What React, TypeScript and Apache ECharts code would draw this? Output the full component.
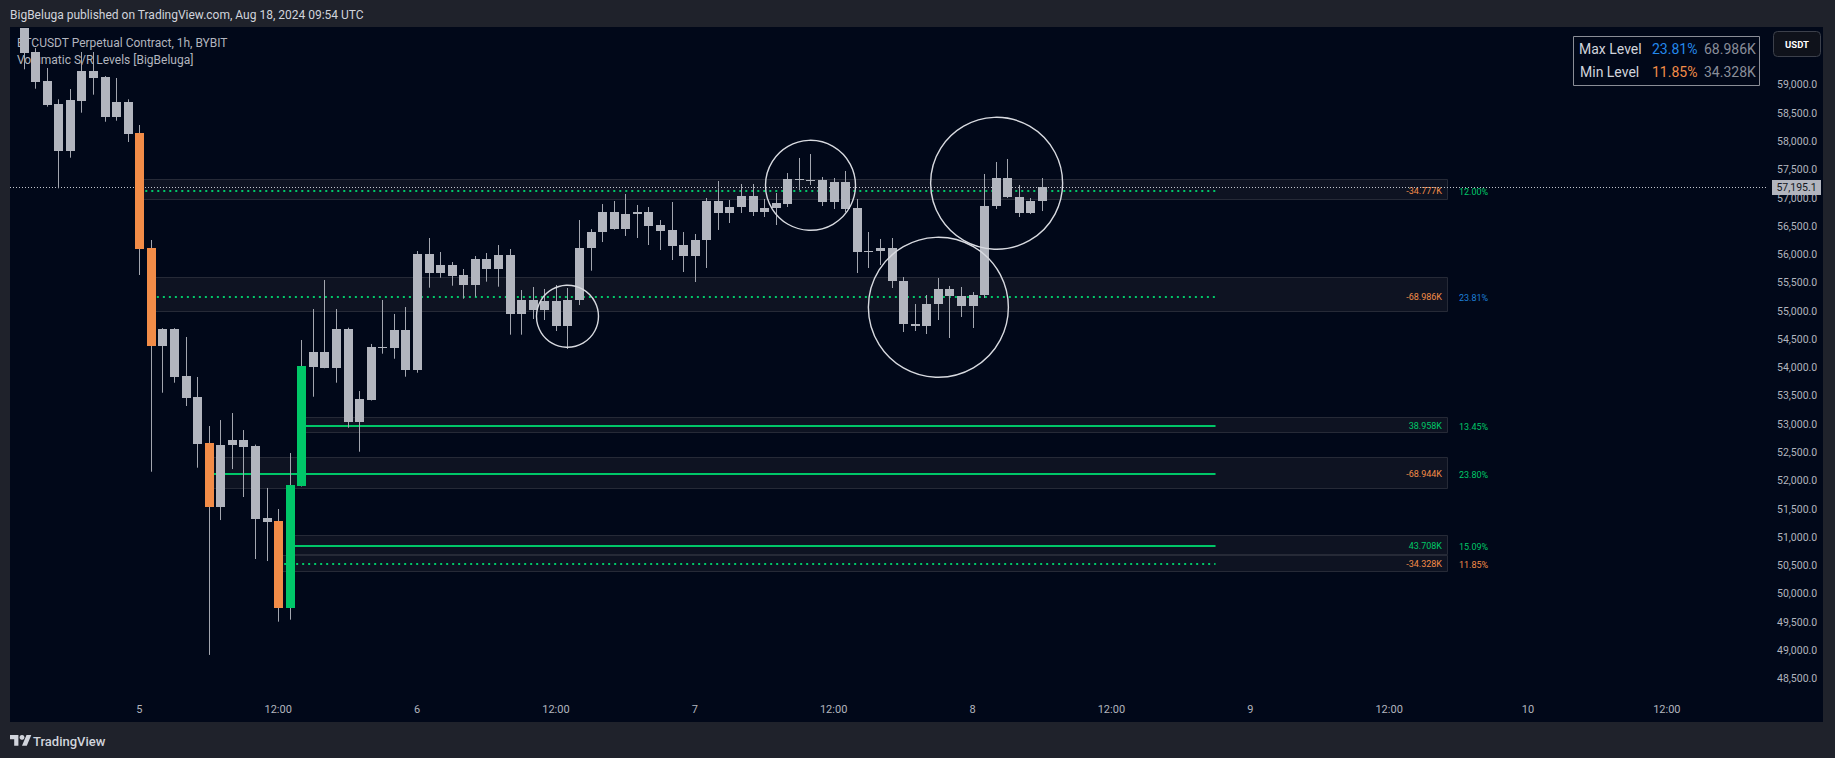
import React, { useEffect, useRef } from "react";
import * as echarts from "echarts";

// ---------------- data ----------------
const firstBarTime = "2024-08-04T14:00:00Z";
const axisOrigin = "2024-08-05T00:00:00Z";

const opens = [
  60150, 59582, 59069, 58662, 57837, 58721, 59240, 59140, 58438, 58698,
  58150, 56116, 54389, 54684, 53853, 53484, 52669, 51537, 52633, 52722,
  52616, 51344, 51291, 49757, 51914, 54019, 54279, 54000, 54686, 53046,
  53434, 54367, 54340, 54667, 53965, 56008, 55680, 55816, 55639, 55468,
  55922, 55751, 55993, 54955, 55197, 55020, 55179, 54737, 55197, 56116,
  56399, 56753, 56452, 56717, 56753, 56523, 56435, 56169, 55975, 56258,
  56947, 56735, 56841, 57036, 56753, 56823, 56894, 57336, 57320, 57319,
  56930, 57283, 56823, 56046, 56070, 56110, 55533, 54773, 54740, 55126,
  55392, 55260, 55091, 55285, 56859, 57354, 57018, 56735, 56947,
];
const highs = [
  60300, 59650, 59299, 58745, 58927, 59582, 59582, 59157, 59122, 58745,
  58291, 56258, 54700, 54700, 54543, 53836, 52969, 53075, 53199, 52898,
  52640, 51874, 51502, 52492, 54490, 55038, 55551, 55038, 54708, 53588,
  54420, 55197, 54950, 55073, 56063, 56293, 56046, 55869, 55745, 55975,
  56028, 56169, 56099, 55374, 55427, 55392, 55462, 55409, 56611, 56450,
  56894, 56947, 57071, 56877, 56841, 56611, 56930, 56399, 56364, 57000,
  57301, 56965, 57248, 57248, 56983, 57089, 57442, 57708, 57778, 57372,
  57354, 57478, 56983, 56399, 56276, 56293, 55604, 55126, 55285, 55586,
  55445, 55427, 55338, 57425, 57637, 57690, 57230, 57000, 57354,
];
const lows = [
  59276, 58933, 58615, 57172, 57713, 58509, 58827, 58349, 58367, 57990,
  55639, 52161, 53558, 53735, 53323, 52232, 48922, 51307, 52208, 51714,
  50618, 50582, 49510, 49545, 51900, 53487, 53990, 53735, 52939, 52515,
  53420, 54248, 54159, 53841, 53912, 55415, 55591, 55450, 55220, 55256,
  55521, 55432, 54584, 54584, 54861, 54843, 54649, 54331, 55108, 55715,
  56222, 56440, 56329, 56293, 56169, 56081, 55904, 55692, 55515, 55763,
  56435, 56558, 56735, 56682, 56664, 56523, 56841, 57142, 57230, 56859,
  56806, 56753, 55674, 55763, 55816, 55409, 54631, 54649, 54596, 54843,
  54525, 54897, 54702, 55233, 56806, 57000, 56664, 56717, 56770,
];
const closes = [
  59570, 59051, 58644, 57837, 58733, 59240, 59127, 58438, 58698, 58137,
  56104, 54389, 54684, 53841, 53464, 52651, 51537, 52633, 52722, 52598,
  51326, 51280, 49757, 51926, 54030, 54279, 54000, 54686, 53046, 53447,
  54367, 54340, 54667, 53965, 56008, 55680, 55816, 55627, 55468, 55922,
  55751, 55993, 54955, 55197, 55020, 55179, 54737, 55197, 56116, 56399,
  56753, 56458, 56717, 56750, 56505, 56417, 56152, 55975, 56258, 56947,
  56735, 56841, 57036, 56753, 56823, 56912, 57336, 57320, 57301, 56930,
  57283, 56806, 56046, 56070, 56110, 55533, 54773, 54740, 55126, 55392,
  55260, 55091, 55285, 56859, 57354, 57018, 56735, 56947, 57195.1,
];
// high-volume bars (indices into the arrays above)
const bearVolumeBars = [10, 11, 16, 22];
const bullVolumeBars = [23, 24];

// S/R levels
const levelStartTimes = [
  "2024-08-05T00:00:00Z", "2024-08-05T01:00:00Z", "2024-08-05T14:00:00Z",
  "2024-08-05T06:00:00Z", "2024-08-05T13:00:00Z", "2024-08-05T12:00:00Z",
];
const levelLineEnd = "2024-08-08T21:00:00Z";
const levelBoxEnd = "2024-08-09T17:00:00Z";
const levelPrices = [57124, 55250, 52975, 52126, 50853, 50535];
const levelTops = [57336, 55604, 53129, 52421, 51043, 50688];
const levelBottoms = [56977, 54997, 52858, 51878, 50701, 50411];
const levelVolumes = ["-34.777K", "-68.986K", "38.958K", "-68.944K", "43.708K", "-34.328K"];
const levelPercents = ["12.00%", "23.81%", "13.45%", "23.80%", "15.09%", "11.85%"];
const levelDotted = [true, true, false, false, false, true];
const levelPctKind = ["up", "max", "up", "up", "up", "min"];

// hand-drawn circles: time, price, radius(px)
const circleTimes = ["2024-08-06T13:00:00Z", "2024-08-07T10:00:00Z", "2024-08-08T02:05:00Z", "2024-08-07T21:03:00Z"];
const circlePrices = [54909, 57225, 57260, 55068];
const circleRadii = [31, 45, 66, 70];

const lastPrice = 57195.1;
const priceTicks = [
  48500, 49000, 49500, 50000, 50500, 51000, 51500, 52000, 52500, 53000, 53500,
  54000, 54500, 55000, 55500, 56000, 56500, 57000, 57500, 58000, 58500, 59000,
];
const timeTicks = [
  "2024-08-05T00:00:00Z", "2024-08-05T12:00:00Z", "2024-08-06T00:00:00Z", "2024-08-06T12:00:00Z",
  "2024-08-07T00:00:00Z", "2024-08-07T12:00:00Z", "2024-08-08T00:00:00Z", "2024-08-08T12:00:00Z",
  "2024-08-09T00:00:00Z", "2024-08-09T12:00:00Z", "2024-08-10T00:00:00Z", "2024-08-10T12:00:00Z",
];

// ---------------- styles ----------------
const PANEL_BG = "#010819";
const FRAME = "#1f222b";
const GRAY = "#b2b5be";
const WICK = "#a3a6af";
const ORANGE = "#f28c48";
const GREEN = "#00c768";
const BLUE = "#1e7fd8";
const BOX_FILL = "#0e1322";
const BOX_STROKE = "#262a37";
const AXIS_TEXT = "#b2b5be";

const X_MIN = -11.173;
const X_MAX = 140.74;
const Y_MIN = 48196;
const Y_MAX = 60006;

const originMs = Date.parse(axisOrigin);
const hourOf = (iso: string) => (Date.parse(iso) - originMs) / 3600000;
const firstHour = hourOf(firstBarTime);

echarts.graphic.registerShape(
  "logo",
  echarts.graphic.extendPath("M14 22H7V11H0V4h14v18zM28 22h-8l7.5-18h8L28 22z", {}) as any
);

function buildOption() {
  const candleData = opens.map((o, k) => {
    const flag = bearVolumeBars.includes(k) ? 1 : bullVolumeBars.includes(k) ? 2 : 0;
    return [firstHour + k, o, highs[k], lows[k], closes[k], flag];
  });
  const levelData = levelPrices.map((p, k) => [
    hourOf(levelStartTimes[k]), hourOf(levelLineEnd), hourOf(levelBoxEnd), p, levelTops[k], levelBottoms[k],
  ]);
  const circleData = circlePrices.map((p, k) => [hourOf(circleTimes[k]), p, circleRadii[k]]);

  const fmtPrice = (v: number) =>
    v.toLocaleString("en-US", { minimumFractionDigits: 1, maximumFractionDigits: 1 });

  const candleSeries = {
    type: "custom",
    z: 3,
    clip: true,
    encode: { x: 0, y: [1, 2, 3, 4] },
    data: candleData,
    renderItem: (params: any, api: any) => {
      const h = api.value(0);
      const pO = api.coord([h, api.value(1)]);
      const pH = api.coord([h, api.value(2)]);
      const pL = api.coord([h, api.value(3)]);
      const pC = api.coord([h, api.value(4)]);
      const flag = api.value(5);
      const cx = Math.round(pO[0]);
      const top = Math.round(Math.min(pO[1], pC[1]));
      const bot = Math.round(Math.max(pO[1], pC[1]));
      const fill = flag === 1 ? ORANGE : flag === 2 ? GREEN : GRAY;
      return {
        type: "group",
        children: [
          {
            type: "line",
            shape: { x1: cx + 0.5, y1: pH[1], x2: cx + 0.5, y2: pL[1] },
            style: { stroke: WICK, lineWidth: 1 },
          },
          {
            type: "rect",
            shape: { x: cx - 4, y: top, width: 9, height: Math.max(bot - top, 1) },
            style: { fill },
          },
        ],
      };
    },
  };

  const levelSeries = {
    type: "custom",
    z: 1,
    encode: { x: [0, 1, 2], y: [3, 4, 5] },
    data: levelData,
    renderItem: (params: any, api: any) => {
      const k = params.dataIndex;
      const a = api.coord([api.value(0), api.value(4)]);
      const b = api.coord([api.value(2), api.value(5)]);
      const l0 = api.coord([api.value(0), api.value(3)]);
      const l1 = api.coord([api.value(1), api.value(3)]);
      const volColor = levelVolumes[k].startsWith("-") ? ORANGE : GREEN;
      const pctColor = levelPctKind[k] === "max" ? BLUE : levelPctKind[k] === "min" ? ORANGE : GREEN;
      const ly = Math.round(l0[1]);
      return {
        type: "group",
        children: [
          {
            type: "rect",
            shape: { x: Math.round(a[0]) + 0.5, y: Math.round(a[1]) + 0.5, width: Math.round(b[0] - a[0]), height: Math.round(b[1] - a[1]) },
            style: { fill: BOX_FILL, stroke: BOX_STROKE, lineWidth: 1 },
          },
          {
            type: "line",
            shape: { x1: l0[0], y1: ly, x2: l1[0], y2: ly },
            style: {
              stroke: GREEN,
              lineWidth: 2,
              lineDash: levelDotted[k] ? [2, 4] : null,
            },
          },
          {
            type: "text",
            style: {
              text: levelVolumes[k], x: b[0] - 5, y: ly, fill: volColor,
              font: "9px Roboto", align: "right", verticalAlign: "middle",
            },
          },
          {
            type: "text",
            style: {
              text: levelPercents[k], x: b[0] + 12, y: ly + 1, fill: pctColor,
              font: "9px Roboto", align: "left", verticalAlign: "middle",
            },
          },
        ],
      };
    },
  };

  const priceSeries = {
    type: "custom",
    z: 1,
    encode: { x: 0, y: 1 },
    data: [[firstHour + opens.length - 1, lastPrice]],
    renderItem: (params: any, api: any) => {
      const cs = params.coordSys;
      const p = api.coord([api.value(0), api.value(1)]);
      const y = Math.round(p[1]) + 0.5;
      const right = cs.x + cs.width;
      return {
        type: "group",
        children: [
          {
            type: "line",
            shape: { x1: cs.x, y1: y, x2: right, y2: y },
            style: { stroke: "#c3c6ce", lineWidth: 1, lineDash: [1, 2] },
          },
          {
            type: "rect",
            shape: { x: right + 4, y: Math.round(p[1]) - 7, width: 49, height: 15 },
            style: { fill: GRAY },
          },
          {
            type: "text",
            style: {
              text: fmtPrice(api.value(1)), x: right + 28.5, y: Math.round(p[1]) + 0.5,
              fill: "#131722", font: "10.5px Roboto", align: "center", verticalAlign: "middle",
            },
          },
        ],
      };
    },
  };

  const circleSeries = {
    type: "custom",
    z: 5,
    encode: { x: 0, y: 1 },
    data: circleData,
    renderItem: (params: any, api: any) => {
      const p = api.coord([api.value(0), api.value(1)]);
      return {
        type: "circle",
        shape: { cx: p[0], cy: p[1], r: api.value(2) },
        style: { fill: "none", stroke: "#d8dae0", lineWidth: 1.4 },
      };
    },
  };

  const frame = [
    { type: "rect", z: 100, shape: { x: 0, y: 0, width: 1835, height: 27 }, style: { fill: FRAME } },
    { type: "rect", z: 100, shape: { x: 0, y: 27, width: 10, height: 731 }, style: { fill: FRAME } },
    { type: "rect", z: 100, shape: { x: 1823, y: 27, width: 12, height: 731 }, style: { fill: FRAME } },
    { type: "rect", z: 100, shape: { x: 0, y: 722, width: 1835, height: 36 }, style: { fill: FRAME } },
    {
      type: "text", z: 101,
      style: {
        text: "BigBeluga published on TradingView.com, Aug 18, 2024 09:54 UTC",
        x: 10, y: 14.5, fill: "#d1d4dc", font: "12px Roboto", align: "left", verticalAlign: "middle",
      },
    },
    {
      type: "logo", z: 101, x: 10, y: 732.6, scaleX: 0.6, scaleY: 0.6,
      style: { fill: "#d1d4dc" },
    },
    {
      type: "circle", z: 101, shape: { cx: 10 + 20 * 0.6, cy: 732.6 + 8 * 0.6, r: 4 * 0.6 },
      style: { fill: "#d1d4dc" },
    },
    {
      type: "text", z: 101,
      style: {
        text: "TradingView", x: 33, y: 741, fill: "#d1d4dc", font: "500 13px Roboto",
        align: "left", verticalAlign: "middle",
      },
    },
    // pane legend
    {
      type: "text", z: 0,
      style: {
        text: "BTCUSDT Perpetual Contract, 1h, BYBIT", x: 17, y: 42.5, fill: GRAY,
        font: "12px Roboto", align: "left", verticalAlign: "middle",
      },
    },
    {
      type: "text", z: 0,
      style: {
        text: "Volumatic S/R Levels [BigBeluga]", x: 17, y: 59.5, fill: GRAY,
        font: "12px Roboto", align: "left", verticalAlign: "middle",
      },
    },
    // table
    {
      type: "rect", z: 20, shape: { x: 1573.5, y: 36.5, width: 186, height: 49 },
      style: { fill: PANEL_BG, stroke: "#8a8d96", lineWidth: 1 },
    },
    { type: "text", z: 21, style: { text: "Max Level", x: 1579, y: 48.5, fill: "#d1d4dc", font: "14px Roboto", align: "left", verticalAlign: "middle" } },
    { type: "text", z: 21, style: { text: levelPercents[1], x: 1652, y: 48.5, fill: "#2488ec", font: "14px Roboto", align: "left", verticalAlign: "middle" } },
    { type: "text", z: 21, style: { text: levelVolumes[1].replace("-", ""), x: 1704, y: 48.5, fill: "#8a8e99", font: "14px Roboto", align: "left", verticalAlign: "middle" } },
    { type: "text", z: 21, style: { text: "Min Level", x: 1580, y: 72, fill: "#d1d4dc", font: "14px Roboto", align: "left", verticalAlign: "middle" } },
    { type: "text", z: 21, style: { text: levelPercents[5], x: 1652, y: 72, fill: ORANGE, font: "14px Roboto", align: "left", verticalAlign: "middle" } },
    { type: "text", z: 21, style: { text: levelVolumes[5].replace("-", ""), x: 1704, y: 72, fill: "#8a8e99", font: "14px Roboto", align: "left", verticalAlign: "middle" } },
    // USDT button
    {
      type: "rect", z: 20, shape: { x: 1773.5, y: 31.5, width: 47, height: 25, r: 4 },
      style: { fill: "#0f121b", stroke: "#3c404b", lineWidth: 1 },
    },
    { type: "text", z: 21, style: { text: "USDT", x: 1797, y: 44, fill: "#ffffff", font: "bold 9.5px Roboto", align: "center", verticalAlign: "middle" } },
  ];

  return {
    animation: false,
    backgroundColor: PANEL_BG,
    grid: { left: 10, right: 67, top: 28, bottom: 62 },
    xAxis: {
      type: "value",
      min: X_MIN,
      max: X_MAX,
      axisLine: { show: false },
      axisTick: { show: false },
      splitLine: { show: false },
      axisLabel: {
        customValues: timeTicks.map(hourOf),
        color: AXIS_TEXT,
        fontSize: 11,
        fontFamily: "Roboto",
        margin: 8,
        formatter: (v: number) => {
          const d = new Date(originMs + v * 3600000);
          const hh = d.getUTCHours();
          return hh === 0 ? String(d.getUTCDate()) : `${hh < 10 ? "0" : ""}${hh}:00`;
        },
      },
    },
    yAxis: {
      type: "value",
      position: "right",
      min: Y_MIN,
      max: Y_MAX,
      axisLine: { show: false },
      axisTick: { show: false },
      splitLine: { show: false },
      axisLabel: {
        customValues: priceTicks,
        color: AXIS_TEXT,
        fontSize: 10.5,
        fontFamily: "Roboto",
        margin: 9,
        align: "left",
        formatter: (v: number) => fmtPrice(v),
      },
    },
    graphic: { elements: frame },
    series: [levelSeries, priceSeries, candleSeries, circleSeries],
  };
}

export default function App() {
  const ref = useRef<HTMLDivElement>(null);
  useEffect(() => {
    if (!ref.current) return;
    const chart = echarts.init(ref.current, null, { renderer: "svg" });
    chart.setOption(buildOption() as any);
    return () => chart.dispose();
  }, []);
  return (
    <div
      ref={ref}
      style={{ position: "fixed", left: 0, top: 0, width: 1835, height: 758, background: PANEL_BG }}
    />
  );
}
